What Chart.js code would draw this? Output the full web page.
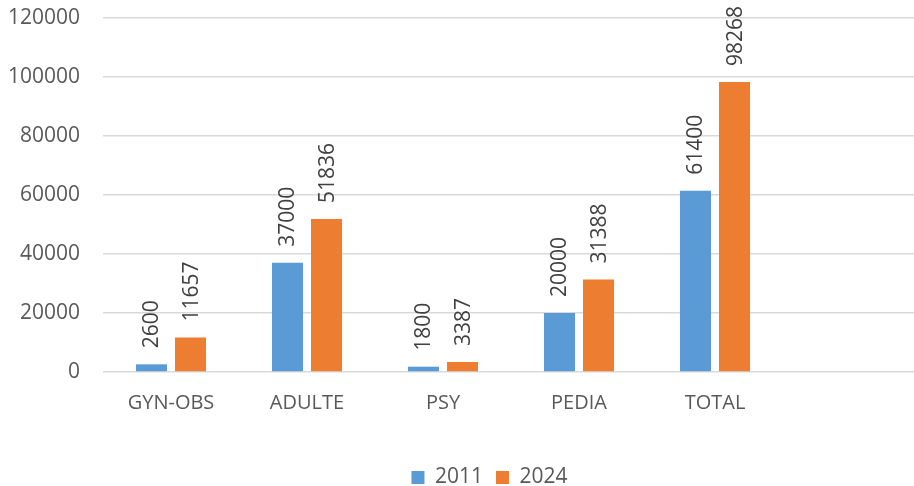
<!DOCTYPE html>
<html><head><meta charset="utf-8">
<script src="https://cdn.jsdelivr.net/npm/chart.js@4/dist/chart.umd.min.js"></script>
<style>html,body{margin:0;padding:0;background:#fff;overflow:hidden}#wrap{width:914px;height:486px;overflow:hidden}</style>
</head><body><div id="wrap"><canvas id="c" width="919" height="486"></canvas></div>
<script>
const categories = ["GYN-OBS", "ADULTE", "PSY", "PEDIA", "TOTAL", ""];
const values2011 = [2600, 37000, 1800, 20000, 61400, null];
const values2024 = [11657, 51836, 3387, 31388, 98268, null];
const seriesNames = ["2011", "2024"];
const yTickValues = [0, 20000, 40000, 60000, 80000, 100000, 120000];

const FONT = '"Open Sans", "Liberation Sans", sans-serif';

const barLabels = {
  id: 'barLabels',
  afterDatasetsDraw(chart) {
    const ctx = chart.ctx;
    chart.data.datasets.forEach((ds, i) => {
      const meta = chart.getDatasetMeta(i);
      meta.data.forEach((bar, j) => {
        const v = ds.data[j];
        if (v == null) return;
        ctx.save();
        ctx.translate(bar.x + 1, bar.y - 16);
        ctx.rotate(-Math.PI / 2);
        ctx.font = '21px ' + FONT;
        ctx.fillStyle = '#404040';
        ctx.textAlign = 'left';
        ctx.textBaseline = 'middle';
        ctx.fillText(String(v), 0, 0);
        ctx.restore();
      });
    });
  }
};

const legendShift = {
  id: 'legendShift',
  afterLayout(chart) {
    if (chart.legend) { chart.legend.left += 30; chart.legend.right += 30; }
  }
};

new Chart(document.getElementById('c'), {
  type: 'bar',
  data: {
    labels: categories,
    datasets: [
      { label: seriesNames[0], data: values2011, backgroundColor: '#5B9BD5', categoryPercentage: 0.574, barPercentage: 0.795 },
      { label: seriesNames[1], data: values2024, backgroundColor: '#ED7D31', categoryPercentage: 0.574, barPercentage: 0.795 }
    ]
  },
  options: {
    responsive: false,
    animation: false,
    devicePixelRatio: 1,
    layout: { autoPadding: false, padding: { top: 18, right: 0, left: 0, bottom: -12 } },
    plugins: {
      legend: {
        position: 'bottom',
        labels: {
          font: { family: FONT, size: 21 },
          color: '#595959',
          boxWidth: 13, boxHeight: 13, padding: 13
        }
      },
      tooltip: { enabled: false }
    },
    scales: {
      x: {
        grid: { display: false, drawTicks: false },
        border: { display: false },
        ticks: { font: { family: FONT, size: 20 }, color: '#595959', padding: 19, maxRotation: 0 },
        afterFit(scale) { scale.height = 82; }
      },
      y: {
        min: 0, max: 120000,
        afterBuildTicks(scale) { scale.ticks = yTickValues.map(v => ({ value: v })); },
        grid: { color: '#D9D9D9', lineWidth: 1.5, drawTicks: false },
        border: { display: false },
        ticks: { font: { family: FONT, size: 21 }, color: '#595959', padding: 23, callback: v => String(v) },
        afterFit(scale) { scale.width = 103; scale.paddingTop = 0; scale.paddingBottom = 0; }
      }
    }
  },
  plugins: [barLabels, legendShift]
});
</script>
</body></html>
